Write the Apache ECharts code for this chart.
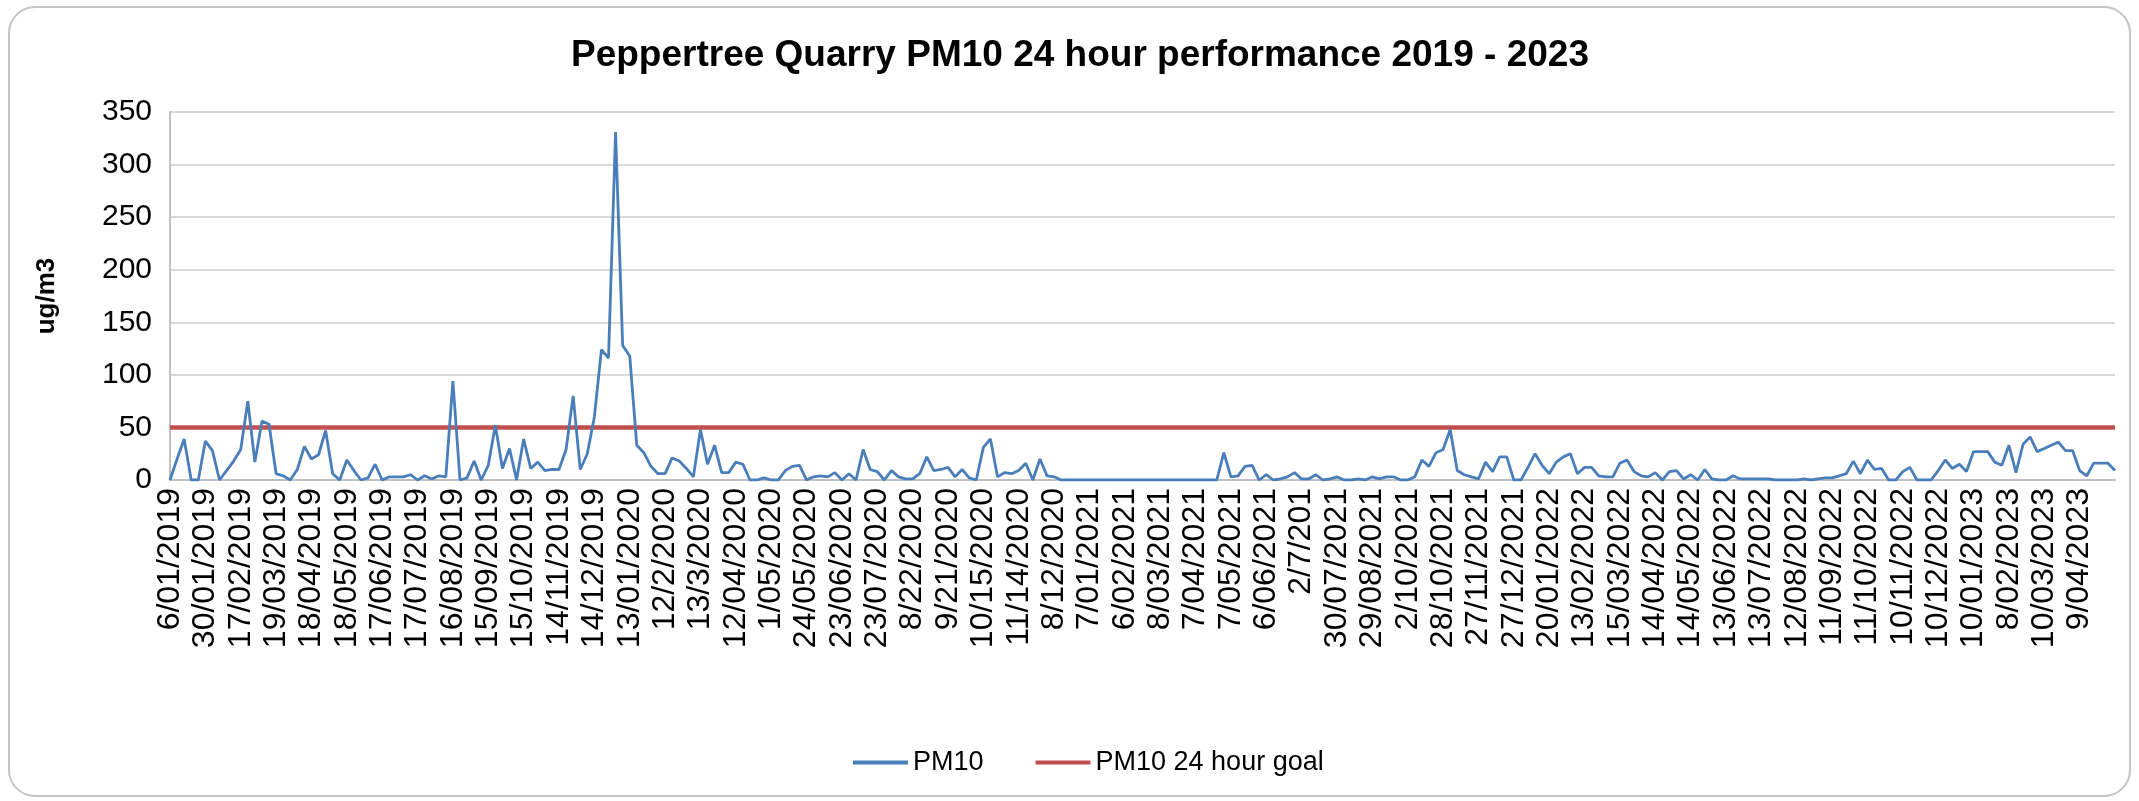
<!DOCTYPE html>
<html>
<head>
<meta charset="utf-8">
<script src="https://cdn.jsdelivr.net/npm/echarts@6/dist/echarts.min.js"></script>
<style>
  html, body { margin: 0; padding: 0; background: #ffffff; }
  #chart { width: 2139px; height: 801px; }
</style>
</head>
<body>
<div id="chart"></div>
<script>
// Tick labels shown under the axis (one every 5 samples)
const tickLabels = [
  '6/01/2019','30/01/2019','17/02/2019','19/03/2019','18/04/2019','18/05/2019','17/06/2019','17/07/2019',
  '16/08/2019','15/09/2019','15/10/2019','14/11/2019','14/12/2019','13/01/2020','12/2/2020','13/3/2020',
  '12/04/2020','1/05/2020','24/05/2020','23/06/2020','23/07/2020','8/22/2020','9/21/2020','10/15/2020',
  '11/14/2020','8/12/2020','7/01/2021','6/02/2021','8/03/2021','7/04/2021','7/05/2021','6/06/2021',
  '2/7/201','30/07/2021','29/08/2021','2/10/2021','28/10/2021','27/11/2021','27/12/2021','20/01/2022',
  '13/02/2022','15/03/2022','14/04/2022','14/05/2022','13/06/2022','13/07/2022','12/08/2022','11/09/2022',
  '11/10/2022','10/11/2022','10/12/2022','10/01/2023','8/02/2023','10/03/2023','9/04/2023'
];
const labelEvery = 5;

// PM10 24-hour values (ug/m3)
const pm10 = [
  0, 20, 39, 0, 0, 37, 28, 0, 9, 18,
  29, 75, 17, 56, 53, 6, 4, 0, 10, 32,
  20, 24, 47, 6, 0, 19, 9, 0, 2, 15,
  0, 3, 3, 3, 5, 0, 4, 1, 4, 3,
  94, 0, 2, 18, 0, 14, 52, 11, 30, 0,
  39, 11, 17, 9, 10, 10, 29, 80, 10, 25,
  60, 124, 116, 331, 128, 118, 33, 26, 13, 6,
  6, 21, 18, 11, 3, 48, 15, 33, 7, 7,
  17, 15, 0, 0, 2, 0, 0, 9, 13, 14,
  0, 3, 4, 3, 7, 0, 6, 0, 29, 10,
  8, 0, 9, 3, 1, 1, 6, 22, 9, 10,
  12, 3, 10, 2, 0, 31, 39, 3, 7, 6,
  9, 16, 0, 20, 4, 3, 0, 0, 0, 0,
  0, 0, 0, 0, 0, 0, 0, 0, 0, 0,
  0, 0, 0, 0, 0, 0, 0, 0, 0, 26,
  3, 4, 13, 14, 0, 5, 0, 1, 3, 7,
  1, 1, 5, 0, 1, 3, 0, 0, 1, 0,
  3, 1, 3, 3, 0, 0, 3, 19, 13, 26,
  29, 48, 9, 5, 3, 1, 17, 8, 22, 22,
  0, 0, 12, 25, 14, 6, 17, 22, 25, 6,
  12, 12, 4, 3, 3, 16, 19, 8, 4, 3,
  7, 0, 8, 9, 1, 5, 0, 10, 1, 0,
  0, 4, 1, 1, 1, 1, 1, 0, 0, 0,
  0, 1, 0, 1, 2, 2, 4, 6, 18, 6,
  19, 10, 11, 0, 0, 8, 12, 0, 0, 0,
  9, 19, 11, 15, 8, 27, 27, 27, 17, 14,
  33, 7, 34, 41, 27, 30, 33, 36, 28, 28,
  9, 4, 16, 16, 16, 9
];

// 24 hour goal
const goalValue = 50;

const seriesNames = ['PM10', 'PM10 24 hour goal'];
const yTicks = { min: 0, max: 350, interval: 50 };

// Category list for the axis: a label on every fifth sample
const categories = pm10.map((v, i) => (i % labelEvery === 0 && tickLabels[i / labelEvery] !== undefined) ? tickLabels[i / labelEvery] : '');
const goalData = [[0, goalValue], [pm10.length - 1, goalValue]];

const FONT = 'Liberation Sans, Arial, Helvetica, sans-serif';
const chart = echarts.init(document.getElementById('chart'), null, { renderer: 'canvas' });
chart.setOption({
  animation: false,
  backgroundColor: '#ffffff',
  graphic: [{
    type: 'rect', z: -10, silent: true,
    shape: { x: 9, y: 7, width: 2121, height: 789, r: 26 },
    style: { fill: '#ffffff', stroke: '#c4c4c4', lineWidth: 2 }
  }],
  title: {
    text: 'Peppertree Quarry PM10 24 hour performance 2019 - 2023',
    left: 566, top: 32,
    textStyle: { fontFamily: FONT, fontSize: 37, fontWeight: 'bold', color: '#000000' }
  },
  legend: {
    data: seriesNames,
    left: 848, top: 744,
    itemWidth: 55, itemHeight: 4, itemGap: 52,
    icon: 'rect',
    textStyle: { fontFamily: FONT, fontSize: 27, color: '#000000' }
  },
  grid: { left: 170, right: 24, top: 112, bottom: 321, containLabel: false },
  xAxis: {
    type: 'category',
    data: categories,
    boundaryGap: false,
    axisLine: { show: true, lineStyle: { color: '#c0c0c0', width: 2 } },
    axisTick: { show: false },
    axisLabel: {
      interval: labelEvery - 1, rotate: 90, margin: 8,
      fontFamily: FONT, fontSize: 32, color: '#000000'
    },
    splitLine: { show: false }
  },
  yAxis: {
    type: 'value',
    min: yTicks.min, max: yTicks.max, interval: yTicks.interval,
    name: 'ug/m3', nameLocation: 'middle', nameRotate: 90, nameGap: 110,
    nameTextStyle: { fontFamily: FONT, fontSize: 26, fontWeight: 'bold', color: '#000000' },
    axisLine: { show: true, lineStyle: { color: '#c0c0c0', width: 2 } },
    axisTick: { show: false },
    axisLabel: { margin: 18, fontFamily: FONT, fontSize: 30, color: '#000000' },
    splitLine: { show: true, lineStyle: { color: '#d9d9d9', width: 2 } }
  },
  series: [
    {
      name: seriesNames[0], type: 'line', data: pm10,
      symbol: 'none', smooth: false,
      lineStyle: { color: '#4a7ebb', width: 2.8 },
      itemStyle: { color: '#4a7ebb' }, z: 3
    },
    {
      name: seriesNames[1], type: 'line', data: goalData,
      symbol: 'none',
      lineStyle: { color: '#c0504d', width: 4.5 },
      itemStyle: { color: '#c0504d' }, z: 2
    }
  ]
});
</script>
</body>
</html>
